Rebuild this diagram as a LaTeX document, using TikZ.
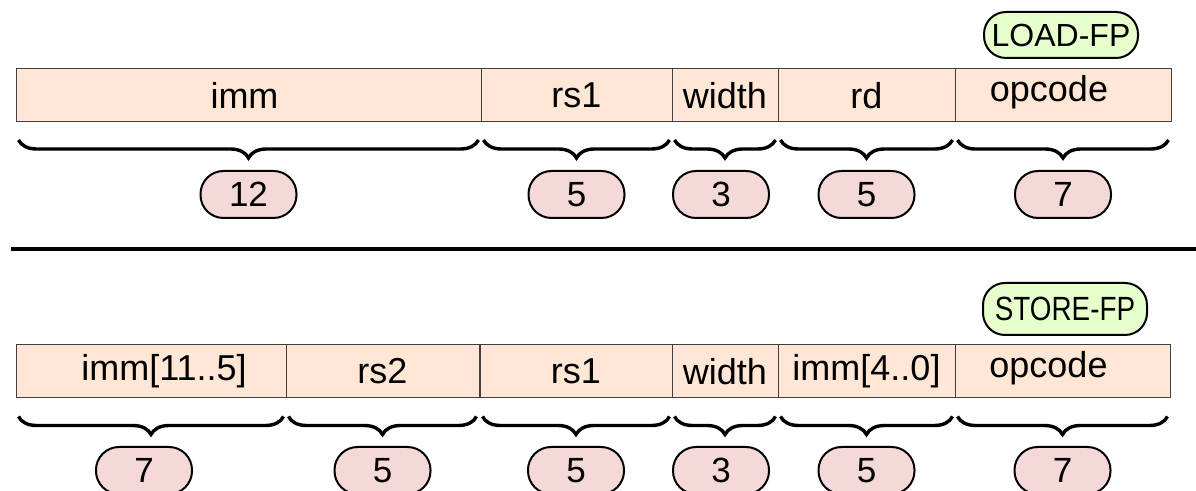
\documentclass[tikz,border=0pt]{standalone}
\usepackage{fontspec}
\setmainfont{Liberation Sans}
\usetikzlibrary{decorations.pathreplacing,positioning}
\definecolor{fieldfill}{HTML}{FFE6D5}
\definecolor{bitfill}{HTML}{F5D8D8}
\definecolor{opfill}{HTML}{E6FFCC}
\tikzset{
    field/.style={draw=black!75,fill=fieldfill,line width=0.5pt,minimum height=26.5pt,inner sep=0pt},
    bitpill/.style={draw,fill=bitfill,line width=1pt,rounded corners=11.5pt,minimum width=48pt,minimum height=23.5pt,inner sep=0pt,font=\fontsize{17.5}{20}\selectfont},
    oppill/.style={draw,fill=opfill,line width=1pt,rounded corners=11pt,inner sep=0pt,font=\fontsize{16}{19}\selectfont},
    brc/.style={decorate,decoration={brace,mirror,amplitude=9pt},line width=1.7pt},
    every label/.style={font=\fontsize{18}{20}\selectfont,inner sep=0pt}
}
\begin{document}
\begin{tikzpicture}[x=0.5pt,y=-0.5pt]
        \useasboundingbox (0,0) rectangle (1196,491);
        \foreach \l/\r/\t/\dx/\dy/\b/\px [count=\i] in {16/481/imm/-4/0/12/0,481/672/rs1/0/0/5/0,672/778/width/0/0/3/-4,778/955/rd/0/0/5/0,955/1171/opcode/-14/3/7/0}{%
            \pgfmathsetmacro\w{(\r-\l)/2}
            \node[field,minimum width=\w pt,label={[xshift=\dx*0.5pt,yshift=\dy*0.5pt]center:\t}] (T-\i) at ({(\l+\r)/2},95.5) {};
            \draw[brc] ([xshift=1.5pt,yshift=-8.75pt]T-\i.south west) -- ([xshift=-1.5pt,yshift=-8.75pt]T-\i.south east);
            \node[bitpill] (TB-\i) at ({(\l+\r)/2+\px},194.5) {\b};
        }
        \node[oppill,minimum width=77pt,minimum height=23pt] (LF) at (1061,35) {LOAD-FP};
        \draw[line width=2pt] (11,249) -- (1196,249);
        \foreach \l/\r/\t/\dx/\dy/\b/\px [count=\i] in {16/286/{imm[11..5]}/13/0/7/-7,286/479/rs2/0/0/5/0,480/672/rs1/0/0/5/0,672/778/width/0/0/3/-4,778/955/{imm[4..0]}/0/0/5/0,955/1170/opcode/-14/3/7/0}{%
            \pgfmathsetmacro\w{(\r-\l)/2}
            \node[field,minimum width=\w pt,label={[xshift=\dx*0.5pt,yshift=\dy*0.5pt]center:{\t}}] (S-\i) at ({(\l+\r)/2},371.5) {};
            \draw[brc] ([xshift=1.5pt,yshift=-9pt]S-\i.south west) -- ([xshift=-1.5pt,yshift=-9pt]S-\i.south east);
            \node[bitpill] (SB-\i) at ({(\l+\r)/2+\px},470.5) {\b};
        }
        \node[oppill,minimum width=82pt,minimum height=26pt] (SF) at (1065,309) {\scalebox{0.87}[1.05]{STORE-FP}};
    \end{tikzpicture}
\end{document}
